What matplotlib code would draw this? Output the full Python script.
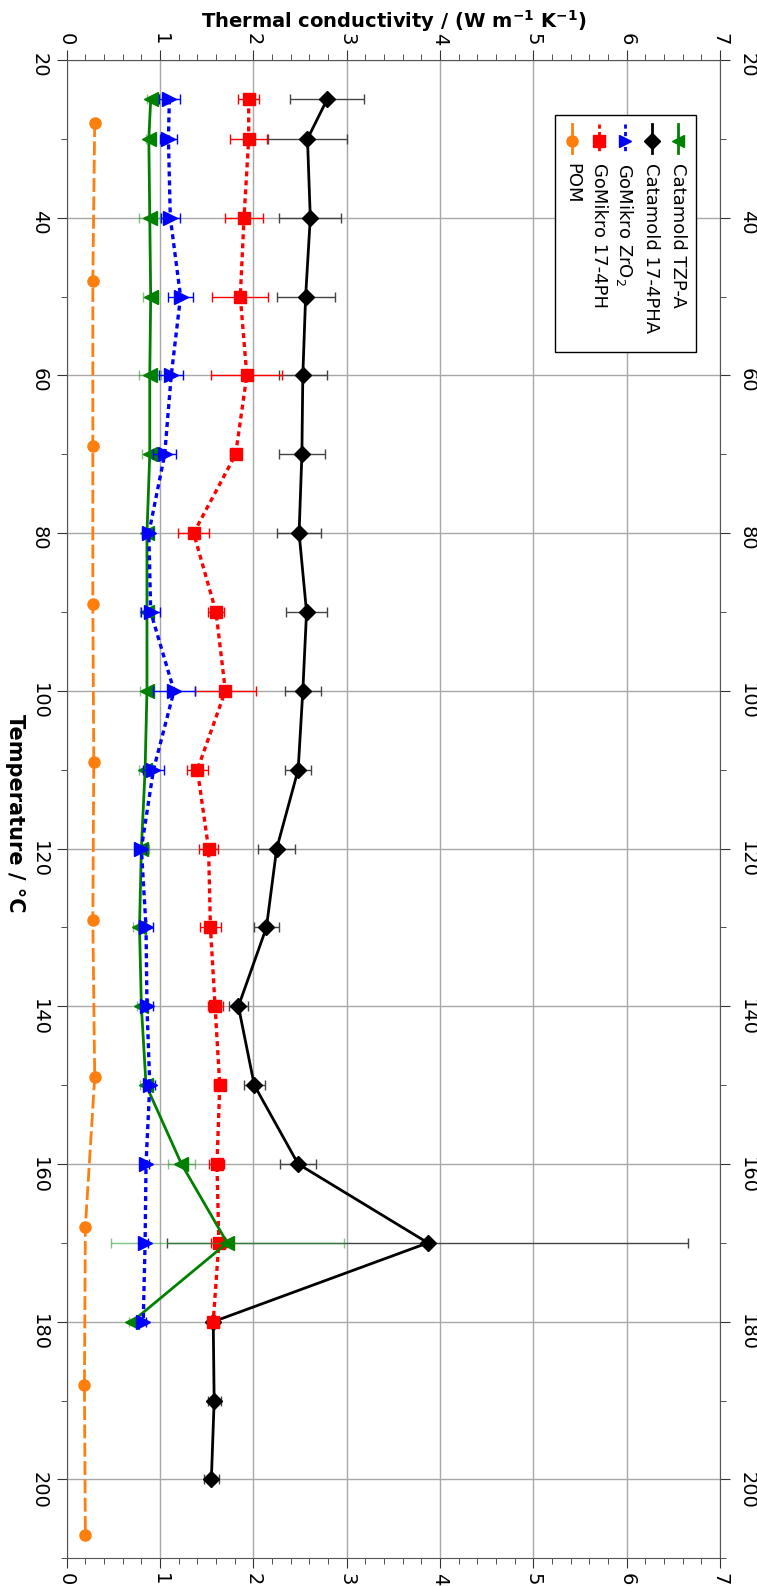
import numpy as np
import matplotlib
matplotlib.use("Agg")
from matplotlib import pyplot as plt
from matplotlib.ticker import MultipleLocator
from matplotlib.patches import Rectangle

# temperatures (degC)
temp = [25, 30, 40, 50, 60, 70, 80, 90, 100, 110, 120, 130, 140, 150, 160, 170, 180]
temp_black = temp + [190, 200]
temp_pom = [28, 48, 69, 89, 109, 129, 149, 168, 188, 207]

# thermal conductivity (W m-1 K-1) and errors
black = [2.79, 2.58, 2.61, 2.56, 2.53, 2.52, 2.49, 2.57, 2.53, 2.48, 2.25, 2.14, 1.84, 2.01, 2.48, 3.87, 1.57, 1.58, 1.55]
black_err = [0.40, 0.42, 0.33, 0.31, 0.26, 0.25, 0.24, 0.22, 0.19, 0.14, 0.20, 0.13, 0.10, 0.11, 0.19, 2.79, 0.05, 0.07, 0.08]
red = [1.95, 1.95, 1.90, 1.86, 1.93, 1.81, 1.36, 1.60, 1.70, 1.40, 1.52, 1.54, 1.59, 1.64, 1.61, 1.63, 1.57]
red_err = [0.11, 0.20, 0.20, 0.30, 0.38, 0.06, 0.17, 0.09, 0.33, 0.11, 0.10, 0.11, 0.08, 0.06, 0.08, 0.08, 0.06]
blue = [1.10, 1.09, 1.11, 1.22, 1.12, 1.05, 0.88, 0.90, 1.15, 0.93, 0.80, 0.85, 0.86, 0.89, 0.85, 0.84, 0.82]
blue_err = [0.11, 0.09, 0.10, 0.13, 0.13, 0.12, 0.04, 0.10, 0.22, 0.11, 0.05, 0.07, 0.06, 0.06, 0.03, 0.03, 0.03]
green = [0.90, 0.88, 0.89, 0.90, 0.89, 0.89, 0.86, 0.86, 0.86, 0.84, 0.80, 0.78, 0.80, 0.85, 1.23, 1.72, 0.70]
green_err = [0.04, 0.03, 0.11, 0.08, 0.12, 0.08, 0.05, 0.07, 0.07, 0.07, 0.08, 0.07, 0.05, 0.06, 0.14, 1.25, 0.03]
pom = [0.30, 0.28, 0.28, 0.28, 0.29, 0.28, 0.30, 0.20, 0.19, 0.20]

labels = ["Catamold TZP-A", "Catamold 17-4PHA", "GoMikro ZrO$_2$", "GoMikro 17-4PH", "POM"]

W, H = 757, 1586
fig = plt.figure(figsize=(W / 100, H / 100), dpi=100)
ax = fig.add_axes([66.7 / W, 1 - 1558.3 / H, (720 - 66.7) / W, (1558.3 - 60) / H])

ax.plot(pom, temp_pom, color="#ff7f0e", ls=(0, (5, 1.6)), lw=2, marker="o", ms=8, zorder=3)
ax.errorbar(black, temp_black, xerr=black_err, color="black", lw=2, marker="D", ms=8.5,
            ecolor="#444444", elinewidth=1, capsize=3.5, zorder=4)
ax.errorbar(red, temp, xerr=red_err, color="red", lw=2.4, ls=(0, (1.5, 1.2)), marker="s", ms=8,
            ecolor="red", elinewidth=1, capsize=3.5, zorder=5)
ax.errorbar(green, temp, xerr=green_err, color="green", lw=2, marker="<", ms=10,
            ecolor=(0.2, 0.6, 0.2, 0.6), elinewidth=1, capsize=3.5, zorder=6)
ax.errorbar(blue, temp, xerr=blue_err, color="blue", lw=2.4, ls=(0, (1.5, 1.2)), marker=">", ms=10,
            ecolor="blue", elinewidth=1, capsize=3.5, zorder=7)

ax.set_xlim(0, 7)
ax.set_ylim(210, 20)
ax.xaxis.set_major_locator(MultipleLocator(1))
ax.xaxis.set_minor_locator(MultipleLocator(0.2))
ax.yaxis.set_major_locator(MultipleLocator(20))
ax.yaxis.set_minor_locator(MultipleLocator(10))
ax.grid(True, which="major", color="#a8a8a8", lw=1)
ax.set_axisbelow(True)
ax.tick_params(which="both", top=True, right=True, labeltop=True, labelright=True,
               color="#333333", labelsize=14)
ax.tick_params(which="major", length=7)
ax.tick_params(which="minor", length=4)
ax.tick_params(axis="y", pad=6)
for lab in ax.get_xticklabels() + ax.get_yticklabels():
    lab.set_rotation(-90)
for s in ax.spines.values():
    s.set_color("#555555")

ax.set_xlabel("Thermal conductivity / (W m$^{\\mathbf{-1}}$ K$^{\\mathbf{-1}}$)", fontsize=14, fontweight="bold")
ax.xaxis.set_label_position("top")
ax.set_ylabel("Temperature / °C", fontsize=15, fontweight="bold", rotation=-90, va="center", ha="center")
ax.yaxis.set_label_coords((15 - 66.7) / (720 - 66.7), 0.497)

# legend, drawn rotated
def fx(px):
    return (px - 66.7) / (720 - 66.7)

def fy(py):
    return 1 - (py - 60) / (1558.3 - 60)

ax.add_patch(Rectangle((fx(555), fy(352)), fx(696) - fx(555), fy(115) - fy(352),
                       transform=ax.transAxes, facecolor="white", edgecolor="black", lw=1, zorder=10))
styles = [("green", "-", "<"), ("black", "-", "D"), ("blue", (0, (1.5, 1.2)), ">"),
          ("red", (0, (1.5, 1.2)), "s"), ("#ff7f0e", "-", "o")]
for i, (lab, (c, ls, m)) in enumerate(zip(labels, styles)):
    x = fx(678 - 26.5 * i)
    ax.plot([x, x], [fy(124), fy(153)], color=c, ls=ls, lw=2, transform=ax.transAxes, clip_on=False, zorder=11)
    ax.plot([x], [fy(140.5)], color=c, marker=m, ms=8, transform=ax.transAxes, clip_on=False, zorder=12)
    ax.text(x, fy(163), lab, rotation=-90, ha="center", va="top", fontsize=13,
            transform=ax.transAxes, zorder=12)

fig.savefig("out.png", dpi=100)
